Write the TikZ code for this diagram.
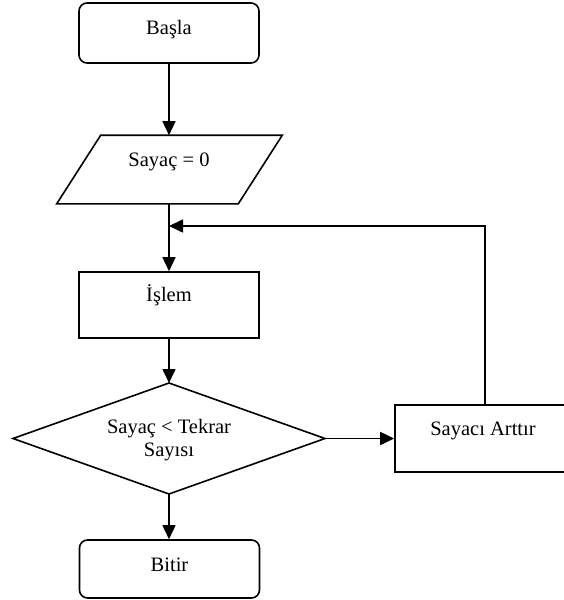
\documentclass[tikz,border=0pt]{standalone}
\usepackage{fontspec}
\setmainfont{Liberation Serif}
\usetikzlibrary{arrows.meta}
\begin{document}
\begin{tikzpicture}[x=1pt,y=-1pt,
  every path/.style={line width=1.6pt},
  box/.style={draw, rectangle, inner sep=0pt, minimum width=180pt},
  terminal/.style={box, rounded corners=8pt},
  iobody/.style={rectangle, inner sep=0pt, minimum width=180pt, minimum height=67pt},
  txt/.style={font=\fontsize{20.5}{23.5}\selectfont, inner sep=0pt, anchor=base, align=center},
  arr/.style={-{Triangle[length=14pt,width=13pt]}}]
  \useasboundingbox[fill=white] (0,0) rectangle (564,600);

  % shapes
  \node[terminal, minimum height=60pt] (start) at (169,33) {};
  \node[iobody] (init) at (169.5,169.5) {};
  \draw[line join=miter] ([xshift=-22pt]init.south west) -- ([xshift=22pt]init.north west)
    -- ([xshift=22pt]init.north east) -- ([xshift=-22pt]init.south east) -- cycle;
  \node[box, minimum height=66pt] (work) at (169,305) {};
  \draw (13,438.5) coordinate (testW) -- (169,383) coordinate (testN)
    -- (325,438.5) coordinate (testE) -- (169,494) coordinate (testS) -- cycle;
  \node[box, minimum height=67pt] (inc) at (485,438.5) {};
  \node[terminal, minimum height=58pt] (stop) at (169.5,569) {};

  % labels
  \node[txt] (tstart) at (169,34.5) {Başla};
  \node[txt] (tinit) at (169,166) {Sayaç = 0};
  \node[txt] (twork) at (169,301.7) {İşlem};
  \node[txt] (ttest) at (169,456.7) {Sayaç < Tekrar\\Sayısı};
  \node[txt] (tinc) at (483,435) {Sayacı Arttır};
  \node[txt] (tstop) at (169.5,571.7) {Bitir};

  % connectors
  \coordinate (join) at (169,226);
  \draw[arr] (start.south) -- (start.south |- init.north);
  \draw[arr] (init.south -| start.south) -- (work.north);
  \draw[arr] (work.south) -- (testN);
  \draw[arr] (testE) -- (inc.west);
  \draw[arr] (inc.north) |- (join);
  \draw[arr] (testS) -- (stop.north -| testS);
\end{tikzpicture}
\end{document}
